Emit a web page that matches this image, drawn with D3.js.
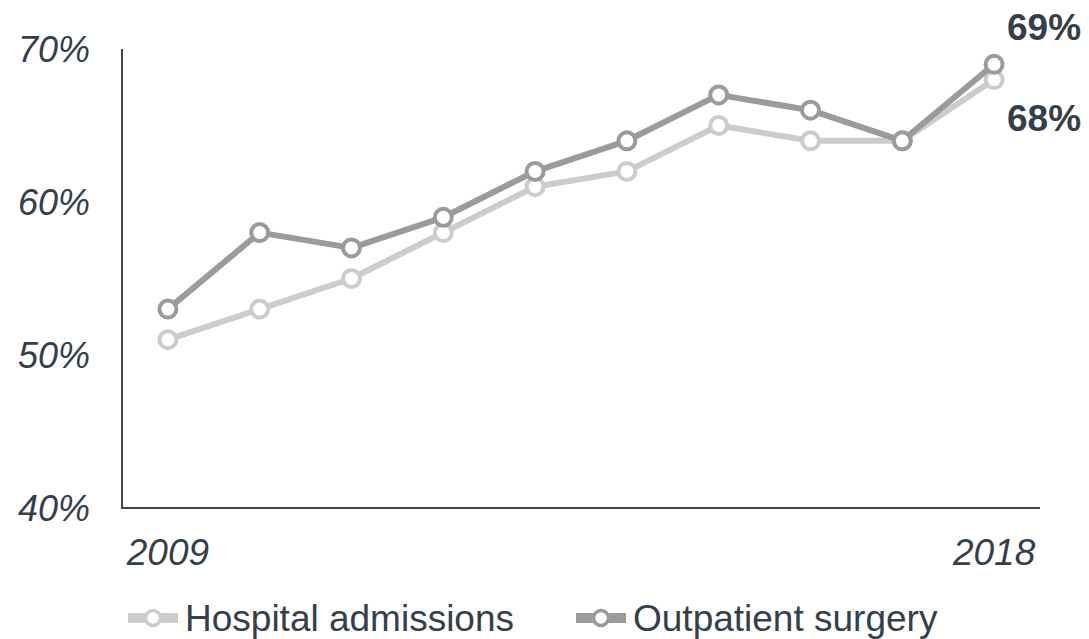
<!DOCTYPE html>
<html>
<head>
<meta charset="utf-8">
<script src="https://cdn.jsdelivr.net/npm/d3@7"></script>
<style>
  html, body { margin: 0; padding: 0; background: #fff; }
  svg { display: block; font-family: "Liberation Sans", Arial, sans-serif; }
</style>
</head>
<body>
<svg id="chart" width="1089" height="639"></svg>
<script>
// Share of procedures, 2009–2018
const years = ["2009", "2010", "2011", "2012", "2013", "2014", "2015", "2016", "2017", "2018"];
const hospitalAdmissions = [51, 53, 55, 58, 61, 62, 65, 64, 64, 68];
const outpatientSurgery = [53, 58, 57, 59, 62, 64, 67, 66, 64, 69];
const yTicks = [40, 50, 60, 70];
const xTickLabels = ["2009", "2018"];

const series = [
  { name: "Hospital admissions", values: hospitalAdmissions, color: "#cccccc" },
  { name: "Outpatient surgery", values: outpatientSurgery, color: "#9b9b9b" }
];

const textColor = "#333f4a";
const axisColor = "#3b4752";

const svg = d3.select("#chart");

const plotLeft = 122, plotRight = 1040, plotTop = 49, plotBottom = 508;

const x = d3.scalePoint().domain(years).range([plotLeft, plotRight]).padding(0.5);
const y = d3.scaleLinear().domain([40, 70]).range([plotBottom, plotTop]);

// Axes (lines only; labels are drawn separately)
svg.append("line")
  .attr("x1", plotLeft).attr("x2", plotLeft).attr("y1", plotTop).attr("y2", plotBottom)
  .attr("stroke", axisColor).attr("stroke-width", 2);
svg.append("line")
  .attr("x1", plotLeft - 1).attr("x2", plotRight).attr("y1", plotBottom).attr("y2", plotBottom)
  .attr("stroke", axisColor).attr("stroke-width", 2);

svg.append("g").selectAll("text")
  .data(yTicks)
  .join("text")
  .attr("x", 90)
  .attr("y", d => y(d))
  .attr("dy", "0.36em")
  .attr("text-anchor", "end")
  .attr("font-size", 36)
  .attr("font-style", "italic")
  .attr("fill", textColor)
  .text(d => d + "%");

svg.append("g").selectAll("text")
  .data(xTickLabels)
  .join("text")
  .attr("x", d => x(d))
  .attr("y", 552)
  .attr("dy", "0.36em")
  .attr("text-anchor", "middle")
  .attr("font-size", 37)
  .attr("font-style", "italic")
  .attr("fill", textColor)
  .text(d => d);

const line = d3.line()
  .x((d, i) => x(years[i]))
  .y(d => y(d));

series.forEach(s => {
  const g = svg.append("g");
  g.append("path")
    .datum(s.values)
    .attr("d", line)
    .attr("fill", "none")
    .attr("stroke", s.color)
    .attr("stroke-width", 6)
    .attr("stroke-linejoin", "round");
  g.selectAll("circle")
    .data(s.values)
    .join("circle")
    .attr("cx", (d, i) => x(years[i]))
    .attr("cy", d => y(d))
    .attr("r", 8.5)
    .attr("fill", "#fff")
    .attr("stroke", s.color)
    .attr("stroke-width", 4);
});

// End-of-series value labels
const last = years.length - 1;
svg.append("text")
  .attr("x", 1007)
  .attr("y", y(outpatientSurgery[last]) - 38)
  .attr("dy", "0.36em")
  .attr("font-size", 37)
  .attr("font-weight", "bold")
  .attr("fill", textColor)
  .text(outpatientSurgery[last] + "%");
svg.append("text")
  .attr("x", 1007)
  .attr("y", y(hospitalAdmissions[last]) + 38)
  .attr("dy", "0.36em")
  .attr("font-size", 37)
  .attr("font-weight", "bold")
  .attr("fill", textColor)
  .text(hospitalAdmissions[last] + "%");

// Legend
const legendX = [128, 576];
series.forEach((s, i) => {
  const g = svg.append("g").attr("transform", `translate(${legendX[i]},618)`);
  g.append("line")
    .attr("x1", 0).attr("x2", 50).attr("y1", 0).attr("y2", 0)
    .attr("stroke", s.color).attr("stroke-width", 10);
  g.append("circle")
    .attr("cx", 25).attr("cy", 0).attr("r", 7.5)
    .attr("fill", "#fff").attr("stroke", s.color).attr("stroke-width", 3.5);
  g.append("text")
    .attr("x", 57).attr("y", 0)
    .attr("dy", "0.36em")
    .attr("font-size", 37)
    .attr("fill", textColor)
    .text(s.name);
});
</script>
</body>
</html>
